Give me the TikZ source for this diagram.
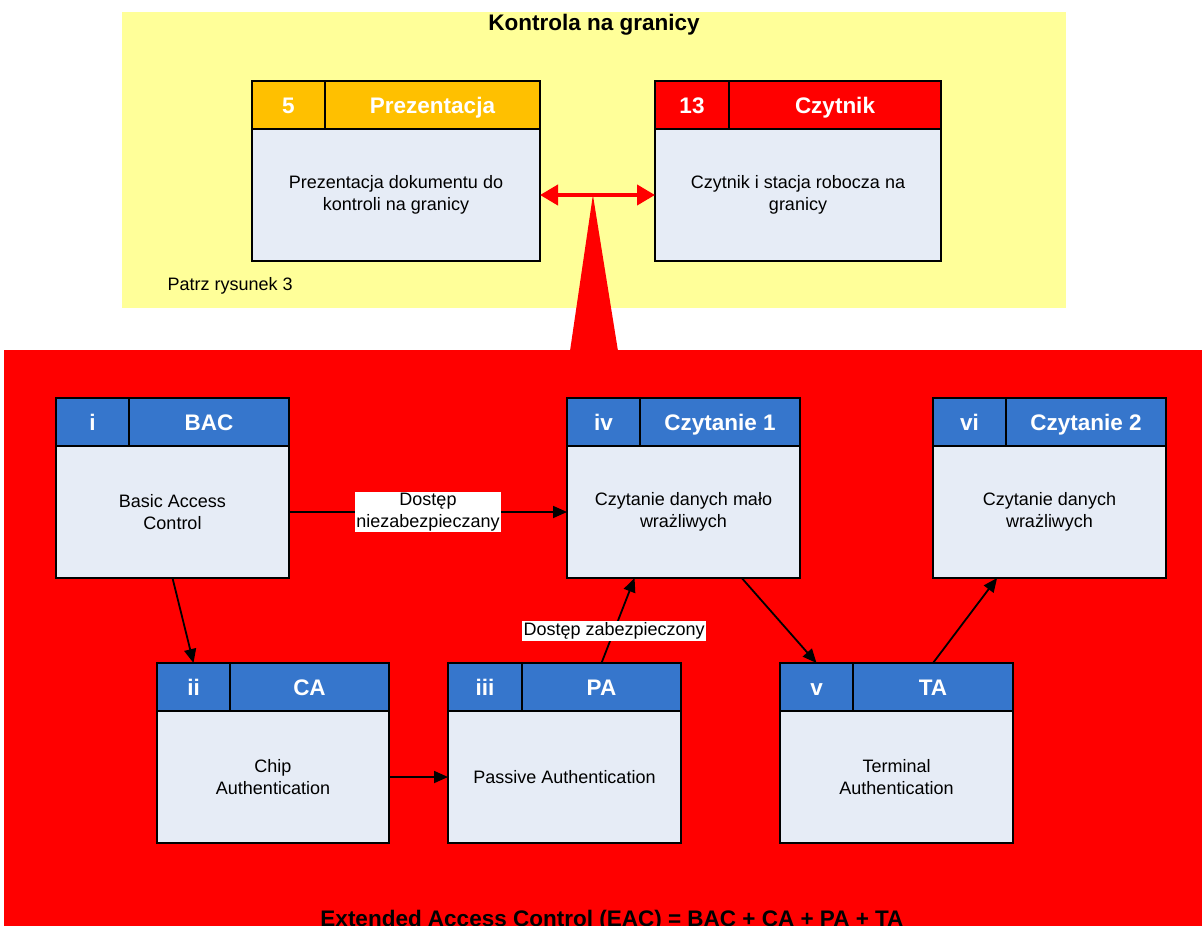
\documentclass[tikz,border=0pt]{standalone}
\usepackage{fontspec}
\setmainfont{Liberation Sans}
\usetikzlibrary{arrows.meta,calc}
\definecolor{zoneyellow}{HTML}{FFFF99}
\definecolor{zonered}{HTML}{FF0000}
\definecolor{headorange}{HTML}{FFC000}
\definecolor{headred}{HTML}{FF0000}
\definecolor{headblue}{HTML}{3676CC}
\definecolor{bodyfill}{HTML}{E6ECF6}

% card: name, x-left, x-right, x-divider, y-top, header colour, number, title, body
\newcommand\cardbox[9]{%
  \node[cardbody, minimum width={#3-#2}] (#1) at ({(#2+#3)/2},{#5+48+66}) {#9};
  \node[cardhead, fill=#6, minimum width={#4-#2}] (#1-n) at ({(#2+#4)/2},{#5+24}) {#7};
  \node[cardhead, fill=#6, minimum width={#3-#4}] (#1-t) at ({(#4+#3)/2},{#5+24}) {#8};
}

\begin{document}
\begin{tikzpicture}[x=1pt,y=-1pt,
  cardbody/.style={draw=black, line width=2pt, fill=bodyfill, minimum height=132pt,
    inner sep=0pt, outer sep=0pt, align=center, font=\fontsize{18}{21.5}\selectfont},
  cardhead/.style={draw=black, line width=2pt, minimum height=48pt, inner sep=0pt,
    outer sep=0pt, text=white, text height=16pt, text depth=0pt,
    font=\fontsize{22.5}{26}\selectfont\bfseries},
  flow/.style={draw=black, line width=1.8pt, -{Triangle[length=14pt,width=12pt]}},
  tag/.style={fill=white, inner sep=1.5pt, align=center, font=\fontsize{18}{21.5}\selectfont},
  link/.style={draw=zonered, line width=4pt, {Triangle[length=18pt,width=20pt]}-{Triangle[length=18pt,width=20pt]}}
]
\useasboundingbox (0,0) rectangle (1202,926);
\clip (0,0) rectangle (1202,926);
\fill[white] (0,0) rectangle (1202,926);

% border-control zone
\fill[zoneyellow] (122,12) rectangle (1066,308);
\node[font=\fontsize{22.5}{26}\selectfont\bfseries] (ztitle) at (594,25) {Kontrola na granicy};
\node[anchor=west, font=\fontsize{18}{21.5}\selectfont] (zref) at (164,286) {Patrz rysunek 3};

% access-control zone
\fill[zonered] (4,350) rectangle (1202,926);

\cardbox{pres}{252}{540}{325}{81}{headorange}{5}{Prezentacja}{Prezentacja dokumentu do\\kontroli na granicy}
\cardbox{read}{655}{941}{729}{81}{headred}{13}{Czytnik}{Czytnik i stacja robocza na\\granicy}

% callout from the access chain up to the link
\coordinate (apex) at ($(pres.east)!0.46!(read.west)$);
\fill[zonered] (apex) -- (618,351) -- (570,351) -- cycle;
\draw[link] (pres.east) -- (read.west);

\cardbox{bac}{56}{289}{129}{398}{headblue}{i}{BAC}{Basic Access\\Control}
\cardbox{cz1}{567}{800}{640}{398}{headblue}{iv}{Czytanie 1}{Czytanie danych mało\\wrażliwych}
\cardbox{cz2}{933}{1166}{1006}{398}{headblue}{vi}{Czytanie 2}{Czytanie danych\\wrażliwych}
\cardbox{ca}{157}{389}{230}{663}{headblue}{ii}{CA}{Chip\\Authentication}
\cardbox{pa}{448}{681}{522}{663}{headblue}{iii}{PA}{Passive Authentication}
\cardbox{ta}{780}{1013}{853}{663}{headblue}{v}{TA}{Terminal\\Authentication}

\draw[flow] (bac.east) -- node[tag] (t1) {Dostęp\\niezabezpieczany} (cz1.west);
\draw[flow] (bac.south) -- (ca-n.north);
\draw[flow] (ca.east) -- (pa.west);
\draw[flow] (pa-t.north) -- node[tag, pos=0.38] (t2) {Dostęp zabezpieczony} ($(cz1.south west)!0.29!(cz1.south east)$);
\draw[flow] ($(cz1.south west)!0.75!(cz1.south east)$) -- (ta-n.north);
\draw[flow] (ta-t.north) -- ($(cz2.south west)!0.275!(cz2.south east)$);

\node[font=\fontsize{22.5}{26}\selectfont\bfseries] (eac) at (612,921) {Extended Access Control (EAC) = BAC + CA + PA + TA};
\end{tikzpicture}
\end{document}
